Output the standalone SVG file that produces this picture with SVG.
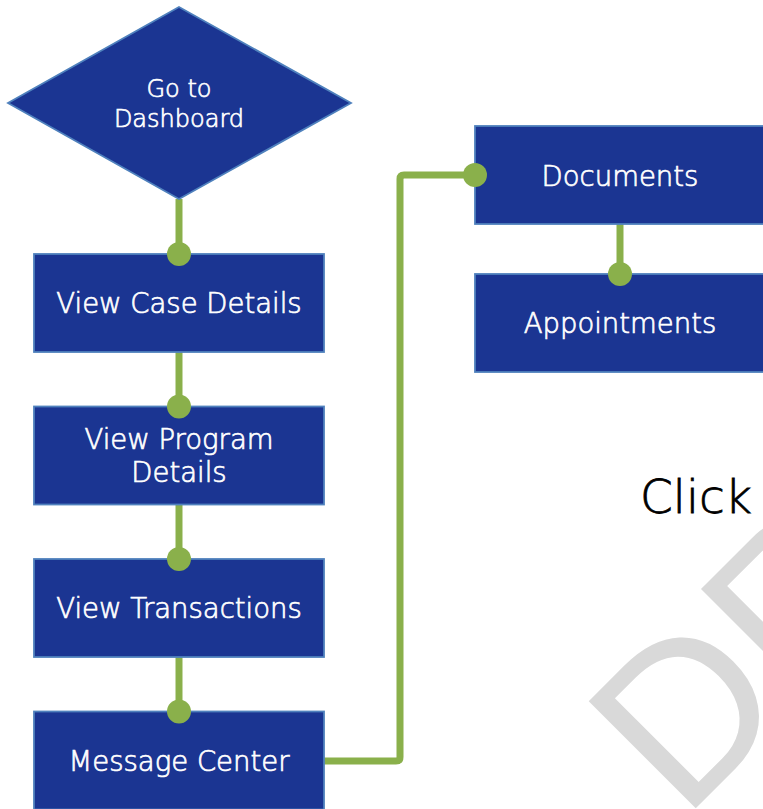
<svg xmlns="http://www.w3.org/2000/svg" width="763" height="809" viewBox="0 0 763 809">
<style>
.node{fill:#1b3592;stroke:#4f81bd;stroke-width:1.8}
.lbl{fill:#ffffff;stroke:#ffffff;stroke-width:0.7;font-family:"DejaVu Sans","Liberation Sans",sans-serif;font-weight:200;text-anchor:middle}
.conn{fill:none;stroke:#8ab04b;stroke-width:7;stroke-linejoin:round}
.dot{fill:#8ab04b}
.wm{fill:#d9d9d9;font-family:"Liberation Sans",sans-serif}
.click{fill:#000000;stroke:#000000;stroke-width:0.8;font-family:"DejaVu Sans","Liberation Sans",sans-serif;font-weight:200}
</style>
<rect width="763" height="809" fill="#ffffff"/>
<text class="wm" font-size="220" transform="translate(683,821) rotate(-45)" x="0" y="0">DRAFT</text>
<text class="click" x="640" y="513" font-size="47">Click</text>
<g id="connectors">
<path class="conn" d="M179,199 V254"/>
<path class="conn" d="M179,352 V407"/>
<path class="conn" d="M179,505 V559"/>
<path class="conn" d="M179,657 V711"/>
<path class="conn" d="M620,224 V274"/>
<path class="conn" d="M324,761 H396 Q400,761 400,757 V179 Q400,175 404,175 H475"/>
</g>
<g id="n-dashboard">
<polygon class="node" points="179,7 351,103 179,199 8,103"/>
<text class="lbl" x="179" y="96.5" font-size="24">Go to</text>
<text class="lbl" x="179" y="127.3" font-size="24">Dashboard</text>
</g>
<g id="n-case">
<rect class="node" x="34" y="254" width="290" height="98"/>
<text class="lbl" x="179" y="313.3" font-size="27.5">View Case Details</text>
<circle class="dot" cx="179" cy="254" r="12"/>
</g>
<g id="n-program">
<rect class="node" x="34" y="406.5" width="290" height="98"/>
<text class="lbl" x="179" y="449.3" font-size="27.5">View Program</text>
<text class="lbl" x="179" y="482.3" font-size="27.5">Details</text>
<circle class="dot" cx="179" cy="406.5" r="12"/>
</g>
<g id="n-transactions">
<rect class="node" x="34" y="559" width="290" height="98"/>
<text class="lbl" x="179" y="618.3" font-size="27.5">View Transactions</text>
<circle class="dot" cx="179" cy="559" r="12"/>
</g>
<g id="n-message">
<rect class="node" x="34" y="711.5" width="290" height="98"/>
<text class="lbl" x="179" y="771" font-size="27.5">Message Center</text>
<circle class="dot" cx="179" cy="711.5" r="12"/>
</g>
<g id="n-documents">
<rect class="node" x="475" y="126" width="290" height="98"/>
<text class="lbl" x="620" y="185.5" font-size="27.5">Documents</text>
<circle class="dot" cx="475" cy="175" r="12"/>
</g>
<g id="n-appointments">
<rect class="node" x="475" y="274" width="290" height="98"/>
<text class="lbl" x="620" y="333.3" font-size="27.5">Appointments</text>
<circle class="dot" cx="620" cy="274" r="12"/>
</g>
</svg>
